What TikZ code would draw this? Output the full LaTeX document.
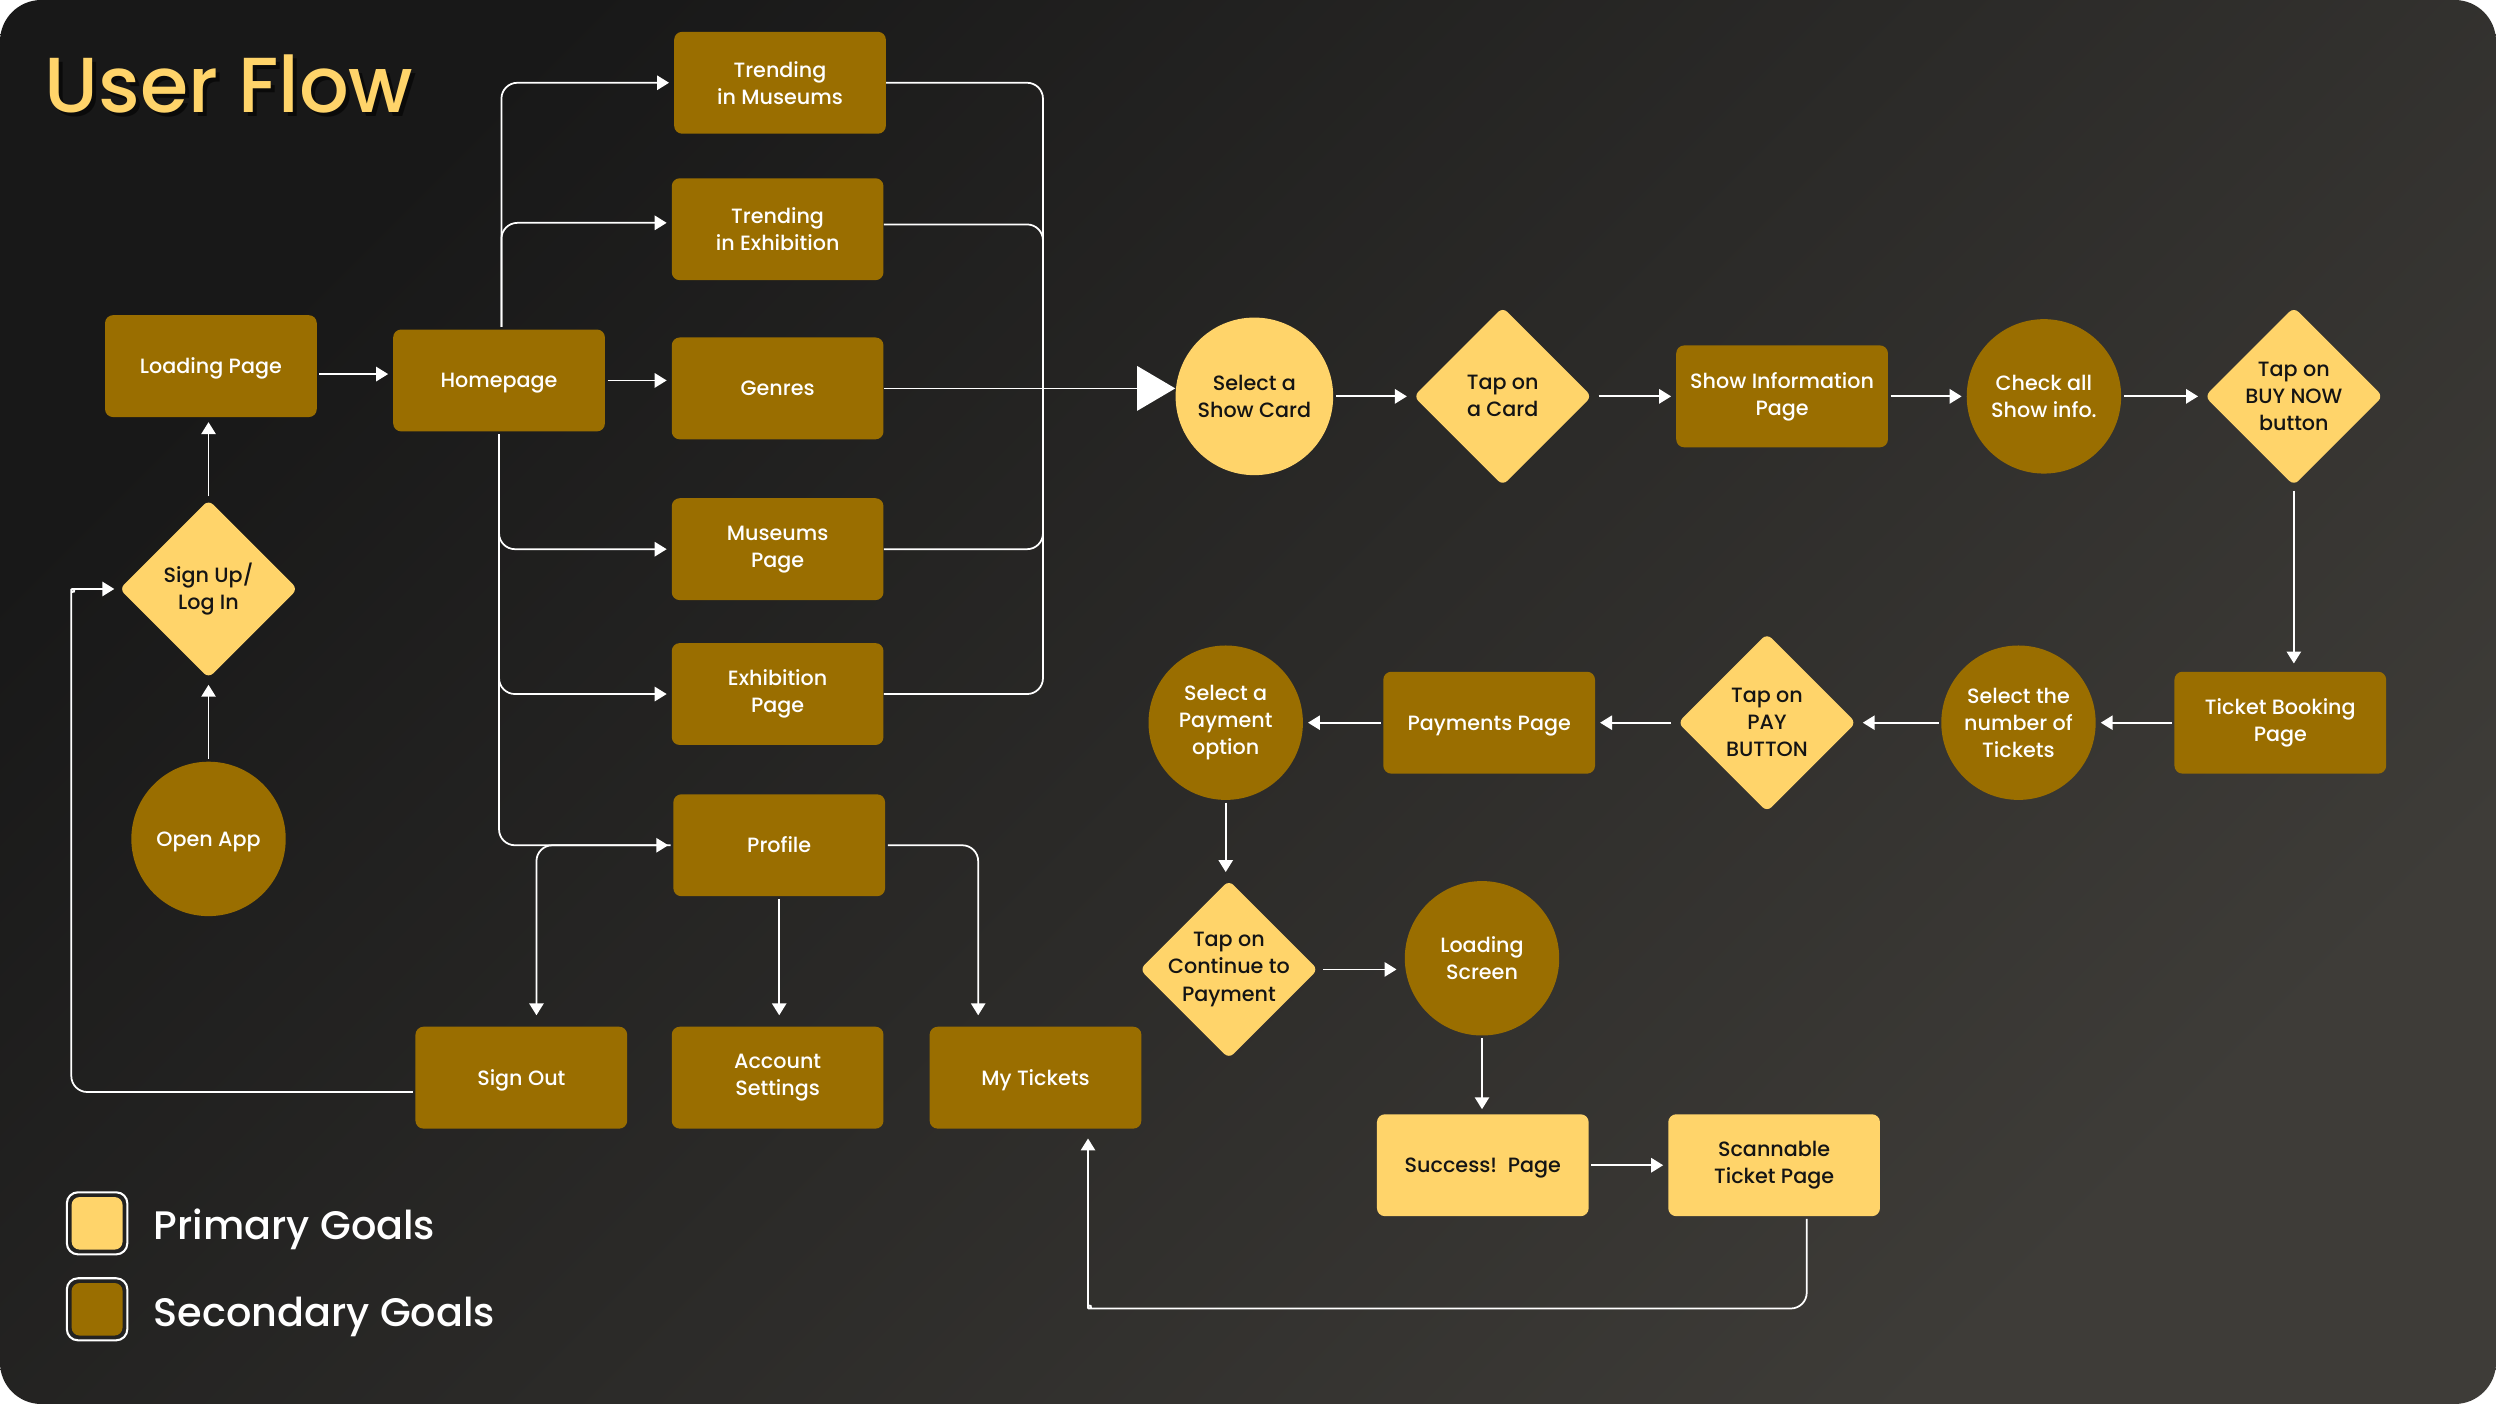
\documentclass[tikz,border=0pt]{standalone}
\usepackage{fontspec}
\setmainfont{Poppins}[UprightFont=* Medium, BoldFont=* SemiBold]
\usetikzlibrary{shapes.geometric, arrows.meta, calc}
\definecolor{brn}{HTML}{9A6E00}
\definecolor{ylw}{HTML}{FFD46A}
\definecolor{bgA}{RGB}{24,24,24}
\definecolor{bgB}{RGB}{62,60,56}
\definecolor{ink}{HTML}{141414}
\begin{document}
\begin{tikzpicture}[x=1pt,y=-1pt,
  lbl/.style={font=\fontsize{13}{17}\selectfont, align=center},
  one/.style={text height=9.3pt, text depth=0pt},
  box/.style={rectangle, rounded corners=5pt, minimum width=133pt, minimum height=64pt, inner sep=2pt, lbl},
  circ/.style={circle, minimum size=97pt, inner sep=0pt, lbl},
  dia/.style={diamond, aspect=1, minimum width=112pt, minimum height=112pt, inner sep=0pt, rounded corners=4pt},
  sec/.style={fill=brn, text=white},
  pri/.style={fill=ylw, text=ink},
  ln/.style={draw=white, line width=1.1pt, rounded corners=10pt},
  arr/.style={ln, -{Triangle[length=7.5pt,width=9pt]}, shorten >=3pt, shorten <=1.5pt},
  bigarr/.style={ln, -{Triangle[length=24pt,width=28pt]}},
  legtxt/.style={anchor=base west, text=white, font=\fontsize{25}{28}\selectfont},
]
% canvas
\useasboundingbox (0,0) rectangle (1568,882);
\fill[white] (0,0) rectangle (1568,882);
\shade[rounded corners=26pt, top color=bgA, bottom color=bgB, shading angle=45] (0,0) rectangle (1568,882);

% title
\node[anchor=base west, text=black, opacity=0.55, font=\fontsize{49}{51}\selectfont] (titlesh) at (27,73) {User Flow};
\node[anchor=base west, text=ylw, font=\fontsize{49}{51}\selectfont] (title) at (24.5,70.5) {User Flow};

% left column
\node[box, sec, one] (load) at (132.5,230) {Loading Page};
\node[dia, pri, label={[lbl, text=ink]center:{Sign Up/\\Log In}}] (signup) at (131,370) {};
\node[circ, sec, one] (openapp) at (131,527) {Open App};
\node[box, sec, one] (home) at (313.5,239) {Homepage};

% middle column
\node[box, sec] (tm) at (490,52) {Trending\\in Museums};
\node[box, sec] (te) at (488.5,144) {Trending\\in Exhibition};
\node[box, sec, one] (genres) at (488.5,244) {Genres};
\node[box, sec] (mp) at (488.5,345) {Museums\\Page};
\node[box, sec] (ep) at (488.5,436) {Exhibition\\Page};
\node[box, sec, one] (profile) at (489.5,531) {Profile};
\node[box, sec, one] (signout) at (327.5,677) {Sign Out};
\node[box, sec] (acct) at (488.5,677) {Account\\Settings};
\node[box, sec, one] (mytix) at (650.5,677) {My Tickets};

% top row
\node[circ, pri, minimum size=99pt] (showcard) at (788,249) {Select a\\Show Card};
\node[dia, pri, label={[lbl, text=ink]center:{Tap on\\a Card}}] (tapcard) at (944,249) {};
\node[box, sec] (showinfo) at (1119.5,249) {Show Information\\Page};
\node[circ, sec] (checkall) at (1284,249) {Check all\\Show info.};
\node[dia, pri, label={[lbl, text=ink]center:{Tap on\\BUY NOW\\button}}] (buynow) at (1441,249) {};

% middle row
\node[box, sec] (booking) at (1432.5,454) {Ticket Booking\\Page};
\node[circ, sec] (numtix) at (1268,454) {Select the\\number of\\Tickets};
\node[dia, pri, label={[lbl, text=ink]center:{Tap on\\PAY\\BUTTON}}] (pay) at (1110,454) {};
\node[box, sec, one] (payments) at (935.5,454) {Payments Page};
\node[circ, sec] (payopt) at (770,454) {Select a\\Payment\\option};

% bottom row
\node[dia, pri, label={[lbl, text=ink]center:{Tap on\\Continue to\\Payment}}] (cont) at (772,609) {};
\node[circ, sec] (loadscr) at (931,602) {Loading\\Screen};
\node[box, pri, one] (success) at (931.5,732) {Success!~~Page};
\node[box, pri] (scan) at (1114.5,732) {Scannable\\Ticket Page};

% legend
\draw[white, line width=1.3pt, rounded corners=7pt] (42,749) rectangle (80,788);
\fill[ylw, rounded corners=5pt] (45,752) rectangle (77,785);
\draw[white, line width=1.3pt, rounded corners=7pt] (42,803) rectangle (80,842);
\fill[brn, rounded corners=5pt] (45,806) rectangle (77,839);
\node[legtxt] (legp) at (93,778.5) {Primary Goals};
\node[legtxt] (legs) at (93,833) {Secondary Goals};

% helper coordinates
\coordinate (lh) at ([yshift=-5pt]load.east);
\coordinate (bus) at ($(genres.east)+(100,0)$);
\coordinate (soIn) at ([xshift=9.5pt]signout.north);
\coordinate (mtIn) at ([xshift=-36pt]mytix.north);
\coordinate (soOut) at ([yshift=-9pt]signout.west);
\coordinate (lx) at ([xshift=-30pt]signup.west);
\coordinate (mtBot) at ([xshift=33pt]mytix.south);
\coordinate (scBot) at ([xshift=20.5pt]scan.south);
\coordinate (lowY) at (0,822);

% left flow
\draw[arr, shorten >=4pt] (openapp.north) -- (signup.south);
\draw[arr, shorten >=3pt, shorten <=2pt] (signup.north) -- (signup.north |- load.south);
\draw[arr] (lh) -- (lh -| home.west);
\draw[arr] (home.east) -- (home.east -| genres.west);
\draw[arr] ([xshift=1.5pt]home.north) |- (tm.west);
\draw[arr] ([xshift=1.5pt]home.north) |- ([yshift=4pt]te.west);
\draw[arr] (home.south) |- (mp.west);
\draw[arr] (home.south) |- (ep.west);
\draw[arr] (home.south) |- (profile.west);

% right bus
\draw[ln] (tm.east) -| (bus);
\draw[ln] ([yshift=3pt]te.east) -| (bus);
\draw[ln] (mp.east) -| (bus);
\draw[ln] (ep.east) -| (bus);
\draw[bigarr] (genres.east) -- (genres.east -| showcard.west);

% profile branches
\draw[arr, shorten >=7pt] (profile.west) -| (soIn);
\draw[arr, shorten >=7pt] (profile.south) -- (profile.south |- acct.north);
\draw[arr, shorten >=7pt] (profile.east) -| (mtIn);
\draw[arr] (soOut) -- (soOut -| lx) -- ($(lx)+(0,10)$) to[out=90,in=180] ($(lx)+(10,0)$) -- (signup.west);

% main flow
\draw[arr, shorten >=4pt] (showcard.east) -- (tapcard.west);
\draw[arr, shorten <=4pt] (tapcard.east) -- (showinfo.west);
\draw[arr] (showinfo.east) -- (checkall.west);
\draw[arr, shorten >=4pt] (checkall.east) -- (buynow.west);
\draw[arr, shorten >=5pt, shorten <=3pt] (buynow.south) -- (buynow.south |- booking.north);
\draw[arr] (booking.west) -- (numtix.east);
\draw[arr, shorten >=4pt] (numtix.west) -- (pay.east);
\draw[arr, shorten <=4pt] (pay.west) -- (payments.east);
\draw[arr] (payments.west) -- (payopt.east);
\draw[arr, shorten >=5pt] (payopt.south) -- (payopt.south |- cont.north);
\draw[arr, shorten >=5pt, shorten <=3pt] (cont.east) -- (cont.east -| loadscr.west);
\draw[arr] (loadscr.south) -- (loadscr.south |- success.north);
\draw[arr] (success.east) -- (scan.west);
\draw[arr, shorten >=6pt] (scBot) -- (scBot |- lowY) -- ($(mtBot |- lowY)+(10,0)$) to[out=180,in=-90] ($(mtBot |- lowY)+(0,-10)$) -- (mtBot);
\end{tikzpicture}
\end{document}
